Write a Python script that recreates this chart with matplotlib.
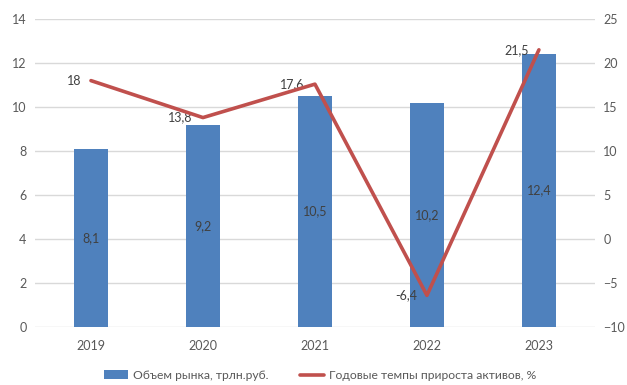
import matplotlib
matplotlib.use("Agg")
import matplotlib.pyplot as plt
import numpy as np

# ---------------------------------------------
# data
# ---------------------------------------------
years = ["2019", "2020", "2021", "2022", "2023"]
market_volume = [8.1, 9.2, 10.5, 10.2, 12.4]      # трлн.руб.
growth_rate = [18, 13.8, 17.6, -6.4, 21.5]        # %

bar_label = "Объем рынка, трлн.руб."
line_label = "Годовые темпы прироста активов, %"

BLUE = "#4f81bd"
RED = "#c0504d"
TXT = "#595959"
GRID = "#d9d9d9"

plt.rcParams["font.family"] = ["Lato", "DejaVu Sans"]


def fmt(v):
    s = f"{v:g}"
    return s.replace(".", ",")


fig = plt.figure(figsize=(6.27, 3.85), dpi=100)
ax = fig.add_axes([0.0558, 0.1506, 0.893, 0.80])
ax2 = ax.twinx()

x = np.arange(len(years))

bars = ax.bar(x, market_volume, width=0.31, color=BLUE, label=bar_label, zorder=2)
ax.set_ylim(0, 14)
ax.set_yticks(range(0, 15, 2))
ax.set_xlim(-0.5, len(years) - 0.5)
ax.set_xticks(x)
ax.set_xticklabels(years)
ax.grid(axis="y", color=GRID, linewidth=1, zorder=0)
ax.set_axisbelow(True)

# values in the middle of each bar
for b, v in zip(bars, market_volume):
    ax.text(b.get_x() + b.get_width() / 2, v / 2, fmt(v),
            ha="center", va="center", fontsize=9, color="#404040", zorder=3)

line, = ax2.plot(x, growth_rate, color=RED, linewidth=2.6, label=line_label,
                 solid_capstyle="round", zorder=4)
ax2.set_ylim(-10, 25)
ax2.set_yticks(range(-10, 26, 5))

for xi, v in zip(x, growth_rate):
    ax2.annotate(fmt(v), (xi, v), xytext=(-10, 0), textcoords="offset pixels",
                 ha="right", va="center", fontsize=9, color="#404040")

for a in (ax, ax2):
    for s in a.spines.values():
        s.set_visible(False)
    a.tick_params(length=0, labelsize=9, colors=TXT, pad=6)

ax.tick_params(axis="x", pad=9)
ax.set_zorder(ax2.get_zorder() - 1)
ax2.patch.set_visible(False)
ax.patch.set_visible(True)

fig.legend(handles=[bars, line], labels=[bar_label, line_label],
           loc="center", bbox_to_anchor=(0.51, 0.025), ncol=2, frameon=False,
           fontsize=8.7, labelcolor=TXT, handlelength=2.0, handleheight=0.7,
           handletextpad=0.4, columnspacing=2.6)

fig.savefig("out.png", dpi=100)
